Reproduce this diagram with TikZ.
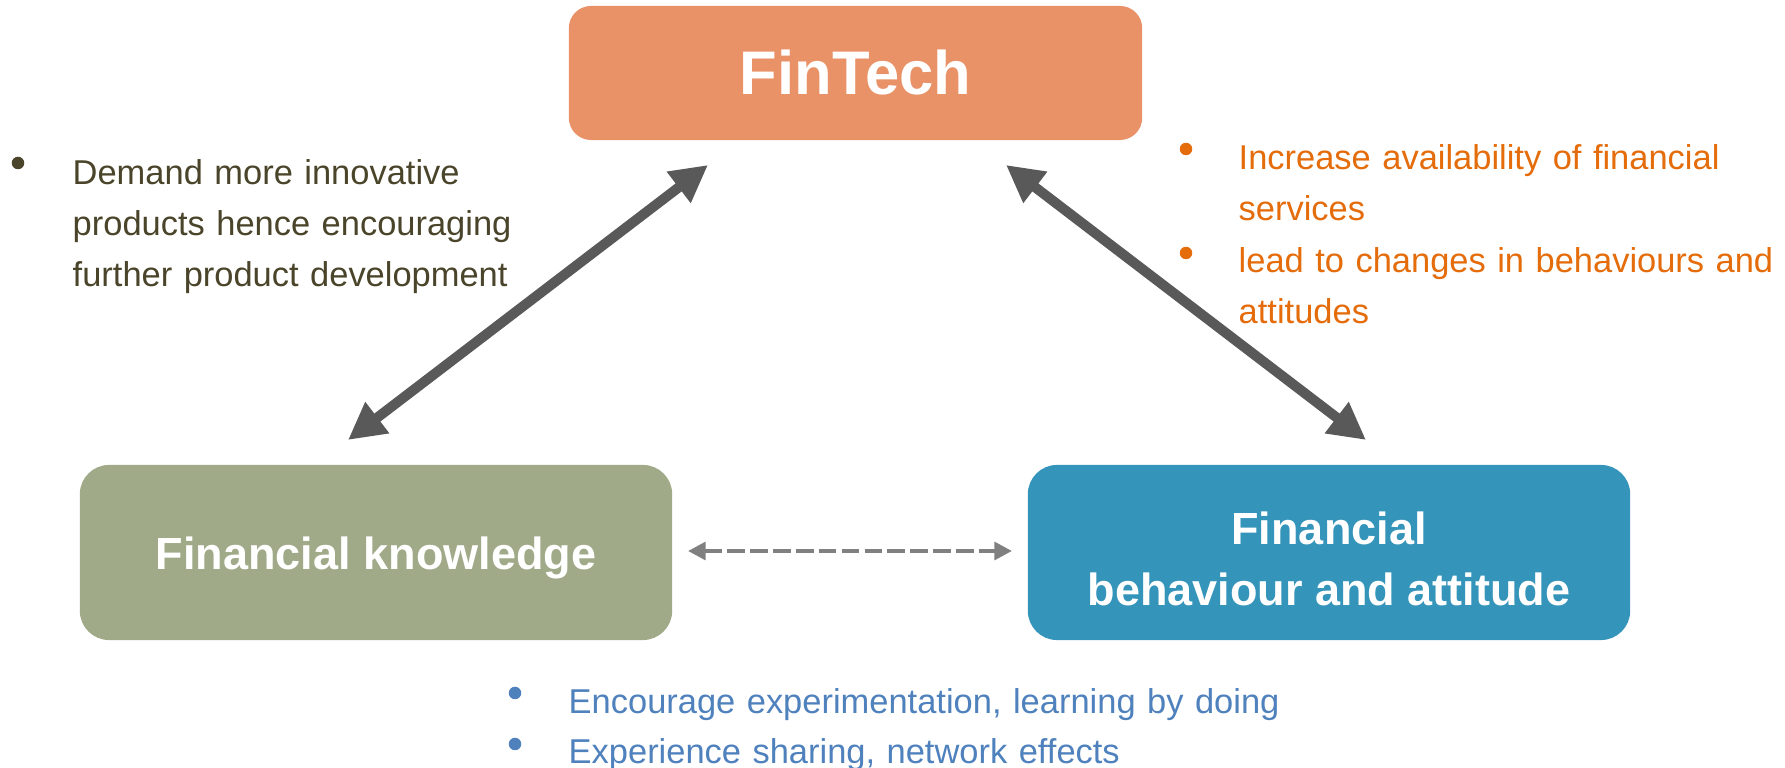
\documentclass[tikz,border=0pt]{standalone}
\usepackage{fontspec}
\setmainfont{Liberation Sans}
\usetikzlibrary{arrows.meta}

\definecolor{techorange}{HTML}{E99267}
\definecolor{knowgreen}{HTML}{A0AA88}
\definecolor{behavblue}{HTML}{3494BA}
\definecolor{arrowgrey}{HTML}{595959}
\definecolor{dashgrey}{HTML}{808080}
\definecolor{olivetext}{HTML}{4A452A}
\definecolor{orangetext}{HTML}{E46C0A}
\definecolor{bluetext}{HTML}{4F81BD}

\begin{document}
\begin{tikzpicture}[x=0.01cm, y=-0.01cm,
    box/.style={rounded corners=8.3pt, text=white, font=\fontsize{12.8}{17.4}\selectfont\bfseries,
      align=center, minimum height=1.75cm, inner sep=0pt},
    bigarrow/.style={arrowgrey, line width=2.85pt,
      {Triangle[length=10.5pt, width=10.5pt]}-{Triangle[length=10.5pt, width=10.5pt]}},
    smallarrow/.style={dashgrey, line width=1.15pt, dash pattern=on 5pt off 1.5pt,
      {Triangle[length=5pt, width=5pt]}-{Triangle[length=5pt, width=5pt]}},
    bullettext/.style={anchor=base west, inner sep=0pt, align=left,
      font=\fontsize{9.8}{14.5}\selectfont},
    dot/.style={circle, inner sep=0pt, minimum size=0.125cm}]
  \useasboundingbox (0,0) rectangle (1785,768);

  % the three boxes
  \node[box, fill=techorange, rounded corners=6.3pt, minimum width=5.73cm, minimum height=1.34cm,
    font=\fontsize{17.5}{20}\selectfont\bfseries] (fintech) at (855.5,73) {FinTech};
  \node[box, fill=knowgreen, minimum width=5.92cm] (knowledge) at (376,552.5) {};
  \node[text=white, font=\fontsize{12.8}{17.4}\selectfont\bfseries] (knowtext) at (376,558) {Financial knowledge};
  \node[box, fill=behavblue, minimum width=6.02cm] (behaviour) at (1329,552.5) {};
  \node[text=white, font=\fontsize{12.8}{17.4}\selectfont\bfseries, align=center] (behavtext) at (1329,559)
    {Financial\\behaviour and attitude};

  % arrows between them
  \coordinate (k1) at (708,165);
  \coordinate (k2) at (348,440);
  \coordinate (b1) at (1006,165);
  \coordinate (b2) at (1366,440);
  \coordinate (d1) at (688,551);
  \coordinate (d2) at (1012,551);
  \draw[bigarrow] (k2) -- (k1);
  \draw[bigarrow] (b1) -- (b2);
  \draw[smallarrow] (d1) -- (d2);

  % notes
  \node[dot, fill=olivetext] (dotl) at (18,163) {};
  \node[bullettext, text=olivetext, text width=5cm] (notel) at (72,185)
    {Demand more innovative\\products hence encouraging\\further product development};

  \node[dot, fill=orangetext] (dotr1) at (1186,149) {};
  \node[bullettext, text=orangetext, text width=5.6cm] (noter1) at (1238,170)
    {Increase availability of financial\\services};
  \node[dot, fill=orangetext] (dotr2) at (1186,253) {};
  \node[bullettext, text=orangetext, text width=5.6cm] (noter2) at (1238,273)
    {lead to changes in behaviours and\\attitudes};

  \node[dot, fill=bluetext] (dotb1) at (515,693) {};
  \node[bullettext, text=bluetext, text width=7.5cm] (noteb1) at (568,714)
    {Encourage experimentation, learning by doing};
  \node[dot, fill=bluetext] (dotb2) at (515,744) {};
  \node[bullettext, text=bluetext, text width=7.5cm] (noteb2) at (568,764)
    {Experience sharing, network effects};
\end{tikzpicture}
\end{document}
